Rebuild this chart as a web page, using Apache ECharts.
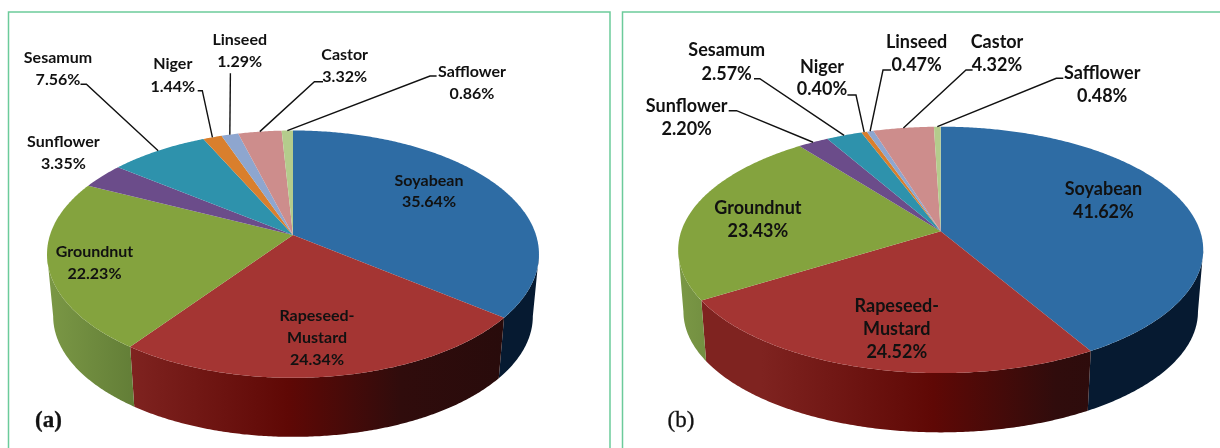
<!DOCTYPE html>
<html>
<head>
    <meta charset="UTF-8"/>
    <title>Oilseed shares</title>
    <style>
        html, body { margin: 0; padding: 0; background: #fff; }
        #charts { width: 1220px; height: 448px; }
    </style>
</head>
<body>
<div id="charts"></div>
<script src="https://cdn.jsdelivr.net/npm/echarts@6/dist/echarts.min.js"></script>
<script>
    var categories = ['Soyabean', 'Rapeseed-Mustard', 'Groundnut', 'Sunflower', 'Sesamum', 'Niger', 'Linseed', 'Castor', 'Safflower'];
    var sharesA = [35.64, 24.34, 22.23, 3.35, 7.56, 1.44, 1.29, 3.32, 0.86];
    var sharesB = [41.62, 24.52, 23.43, 2.20, 2.57, 0.40, 0.47, 4.32, 0.48];
    var topColors = ['#2e6ca4', '#a43533', '#84a33e', '#6b4c8a', '#2e92ac', '#d97f2d', '#8ea6cf', '#cd8d8c', '#b4cc8c'];
    var frameColor = '#6ccb9b';
    var textColor = '#111111';

    // pie geometry per panel: k is the perspective factor, s shrinks the lower rim
    var panelA = {
        shares: sharesA, tag: '(a)', tagX: 48.5, tagY: 421, tagWeight: 'bold', fontSize: 16,
        cx: 293, cy: 235, R: 243, Ry: 120.7, k: 0.155, s: 0.975, cyLow: 297.6,
        // [x, line y, line y, ...] centre of each label
        labels: [[429, 181, 202], [317, 316, 338, 360], [94.5, 252, 274], [63.4, 142, 164], [58, 58, 80],
            [172.8, 64, 87], [239.7, 40, 62], [344.7, 55, 77], [472, 72, 94]],
        // leader elbows, the end on the rim comes from the data
        leaders: {
            4: [[80.5, 84.3], [86.4, 84.3]],
            5: [[197.7, 90.7], [202.3, 90.7]],
            6: [[230.4, 73.3]],
            7: [[323, 81.7], [314.4, 81.7]],
            8: [[436.6, 76], [430, 76]]
        }
    };
    var panelB = {
        shares: sharesB, tag: '(b)', tagX: 681, tagY: 421, tagWeight: 'normal', fontSize: 18,
        cx: 940.7, cy: 231.3, R: 259.5, Ry: 120.4, k: 0.151, s: 0.98, cyLow: 293.4,
        labels: [[1103.4, 189, 212], [896.8, 306, 329, 352], [757.9, 208, 231], [686.7, 106, 129], [726.7, 50, 74],
            [822, 67, 89], [916.6, 42, 65], [997, 42, 65], [1102.2, 73, 96]],
        leaders: {
            3: [[728.7, 110.7], [736.5, 110.7]],
            4: [[754, 78.7], [759.8, 78.7]],
            5: [[847.4, 95], [856, 95]],
            6: [[891, 70], [883, 70]],
            7: [[972.6, 70], [966, 70]],
            8: [[1063.3, 78.3], [1056.3, 78.3]]
        }
    };

    function total(list) {
        return list.reduce(function (a, b) { return a + b; }, 0);
    }

    function startOf(list, index) {
        return total(list.slice(0, index)) / total(list);
    }

    // frac 0 is 12 o'clock, going clockwise
    function rimPoint(p, frac, low) {
        var a = frac * Math.PI * 2;
        var u = Math.sin(a), v = -Math.cos(a);
        var d = 1 - p.k * v;
        var s = low ? p.s : 1;
        return [p.cx + s * p.R * u / d, (low ? p.cyLow : p.cy) + s * p.Ry * v / d];
    }

    function arcPoints(p, from, to, low) {
        var n = Math.max(2, Math.ceil((to - from) * 720));
        var pts = [];
        for (var i = 0; i <= n; i++) {
            pts.push(rimPoint(p, from + (to - from) * i / n, low));
        }
        return pts;
    }

    function sideFill(p, index) {
        var x0 = p.cx - p.R, x1 = p.cx + p.R;
        if (index === 0) return '#061a31';
        if (index === 1) {
            return {
                type: 'linear', global: true, x: x0 + 80, y: 0, x2: x1 - 30, y2: 0,
                colorStops: [
                    {offset: 0, color: '#7f2320'},
                    {offset: 0.42, color: '#5f0805'},
                    {offset: 0.72, color: '#300c0c'},
                    {offset: 1, color: '#280b0b'}
                ]
            };
        }
        if (index === 2) {
            return {
                type: 'linear', global: true, x: x0, y: 0, x2: x0 + 90, y2: 0,
                colorStops: [{offset: 0, color: '#7a9745'}, {offset: 1, color: '#617c36'}]
            };
        }
        return topColors[index];
    }

    function sideItem(p) {
        // only the part of the wall between the two outer tangents faces the viewer
        var front = Math.acos(-p.k) / (Math.PI * 2);
        return function (params, api) {
            var from = startOf(p.shares, params.dataIndex);
            var to = from + api.value(0) / total(p.shares);
            from = Math.max(from, front);
            to = Math.min(to, 1 - front);
            if (to <= from) return null;
            var pts = arcPoints(p, from, to, false).concat(arcPoints(p, from, to, true).reverse());
            return {type: 'polygon', shape: {points: pts}, style: {fill: sideFill(p, params.dataIndex)}};
        };
    }

    function topItem(p) {
        return function (params, api) {
            var from = startOf(p.shares, params.dataIndex);
            var to = from + api.value(0) / total(p.shares);
            var pts = [[p.cx, p.cy]].concat(arcPoints(p, from, to, false));
            return {type: 'polygon', shape: {points: pts}, style: {fill: topColors[params.dataIndex]}};
        };
    }

    function labelItem(p) {
        return function (params, api) {
            var i = params.dataIndex;
            var spot = p.labels[i];
            var lines = categories[i] === 'Rapeseed-Mustard' ? ['Rapeseed-', 'Mustard'] : [categories[i]];
            lines = lines.concat(api.value(0).toFixed(2) + '%');
            var children = lines.map(function (t, n) {
                return {
                    type: 'text', x: spot[0], y: spot[n + 1],
                    style: {
                        text: t, align: 'center', verticalAlign: 'middle', fill: textColor,
                        font: 'bold ' + p.fontSize + 'px Lato'
                    }
                };
            });
            if (p.leaders[i]) {
                var from = startOf(p.shares, i);
                var mid = from + api.value(0) / total(p.shares) / 2;
                children.push({
                    type: 'polyline',
                    shape: {points: p.leaders[i].concat([rimPoint(p, mid, false)])},
                    style: {stroke: '#111', lineWidth: 1.4, fill: null}
                });
            }
            return {type: 'group', children: children};
        };
    }

    function panelSeries(p) {
        var values = p.shares.map(function (v) { return [v]; });
        return [
            {type: 'custom', coordinateSystem: 'none', renderItem: sideItem(p), data: values, z: 1, silent: true, animation: false},
            {type: 'custom', coordinateSystem: 'none', renderItem: topItem(p), data: values, z: 2, silent: true, animation: false},
            {type: 'custom', coordinateSystem: 'none', renderItem: labelItem(p), data: values, z: 3, silent: true, animation: false}
        ];
    }

    function frame(points) {
        return {type: 'polyline', shape: {points: points}, style: {stroke: frameColor, lineWidth: 1.5, fill: null}, z: 0};
    }

    function tag(p) {
        return {
            type: 'text', x: p.tagX, y: p.tagY, z: 5,
            style: {
                text: p.tag, align: 'center', verticalAlign: 'middle', fill: textColor,
                stroke: textColor, lineWidth: 0.3, font: p.tagWeight + ' 23px "Liberation Serif"'
            }
        };
    }

    var myChart = echarts.init(document.getElementById('charts'));
    myChart.setOption({
        animation: false,
        backgroundColor: '#fff',
        graphic: [
            frame([[8.5, 448], [8.5, 12], [610, 12], [610, 448]]),
            frame([[622.5, 448], [622.5, 12], [1220, 12]]),
            tag(panelA),
            tag(panelB)
        ],
        series: panelSeries(panelA).concat(panelSeries(panelB))
    });
</script>
</body>
</html>
